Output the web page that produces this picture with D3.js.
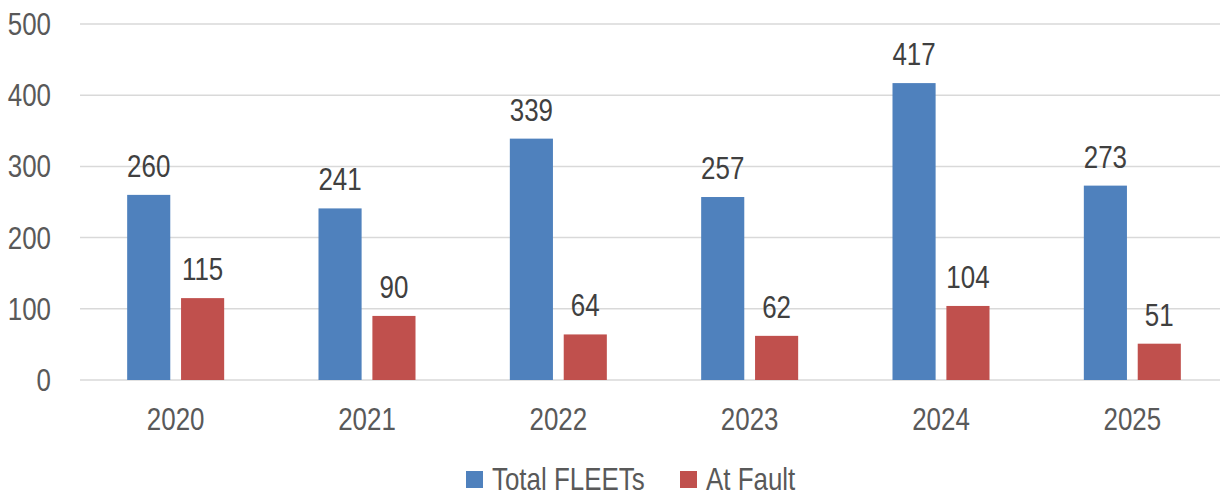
<!DOCTYPE html>
<html>
<head>
<meta charset="utf-8">
<title>FLEETs chart</title>
<script src="https://cdn.jsdelivr.net/npm/d3@7"></script>
<style>
body { margin: 0; background: #fff; }
text { font-family: "Liberation Sans", Arial, sans-serif; font-size: 32px; }
</style>
</head>
<body>
<script>
const years = ["2020", "2021", "2022", "2023", "2024", "2025"];
const seriesNames = ["Total FLEETs", "At Fault"];
const totalFleets = [260, 241, 339, 257, 417, 273];
const atFault = [115, 90, 64, 62, 104, 51];
const yTicks = [0, 100, 200, 300, 400, 500];
const colors = ["#4F81BD", "#C0504D"];

const width = 1220, height = 493;
const margin = {top: 24, right: -8, bottom: 113, left: 80};
const narrow = 0.81; // squeeze text like Arial Narrow

const data = years.map((y, i) => ({year: y, values: [totalFleets[i], atFault[i]]}));

const svg = d3.select("body").append("svg")
  .attr("width", width).attr("height", height);

const x = d3.scaleBand().domain(years)
  .range([margin.left, width - margin.right]).paddingInner(0.493).paddingOuter(0.2465);
const xs = d3.scaleBand().domain([0, 1]).range([0, x.bandwidth()]).paddingInner(0.2);
const y = d3.scaleLinear().domain([0, 500]).range([height - margin.bottom, margin.top]);

function place(sel, fx, fy) {
  return sel.attr("transform", (d, i) => `translate(${fx(d, i)},${fy(d, i)}) scale(${narrow},1)`);
}

// gridlines
svg.append("g").selectAll("line").data(yTicks).enter().append("line")
  .attr("x1", margin.left).attr("x2", width)
  .attr("y1", d => y(d)).attr("y2", d => y(d))
  .attr("stroke", "#D9D9D9").attr("stroke-width", 1.5);

// y labels
place(svg.append("g").selectAll("text").data(yTicks).enter().append("text"),
    () => 51, d => y(d) + 11)
  .attr("text-anchor", "end").attr("fill", "#595959")
  .text(d => d);

// bars
const groups = svg.append("g").selectAll("g").data(data).enter().append("g")
  .attr("transform", d => `translate(${x(d.year)},0)`);

groups.selectAll("rect").data(d => d.values).enter().append("rect")
  .attr("x", (d, i) => xs(i)).attr("width", xs.bandwidth())
  .attr("y", d => y(d)).attr("height", d => y(0) - y(d))
  .attr("fill", (d, i) => colors[i]);

place(groups.selectAll("text").data(d => d.values).enter().append("text"),
    (d, i) => xs(i) + xs.bandwidth() / 2, d => y(d) - 18)
  .attr("text-anchor", "middle").attr("fill", "#404040")
  .text(d => d);

// x labels
place(svg.append("g").selectAll("text").data(years).enter().append("text"),
    d => x(d) + x.bandwidth() / 2, () => 430)
  .attr("text-anchor", "middle").attr("fill", "#595959")
  .text(d => d);

// legend
const legendX = [466, 680];
const legend = svg.append("g").selectAll("g").data(seriesNames).enter().append("g")
  .attr("transform", (d, i) => `translate(${legendX[i]},471)`);
legend.append("rect").attr("width", 17).attr("height", 17).attr("fill", (d, i) => colors[i]);
place(legend.append("text"), () => 26, () => 18.5)
  .attr("fill", "#595959").text(d => d);
</script>
</body>
</html>
